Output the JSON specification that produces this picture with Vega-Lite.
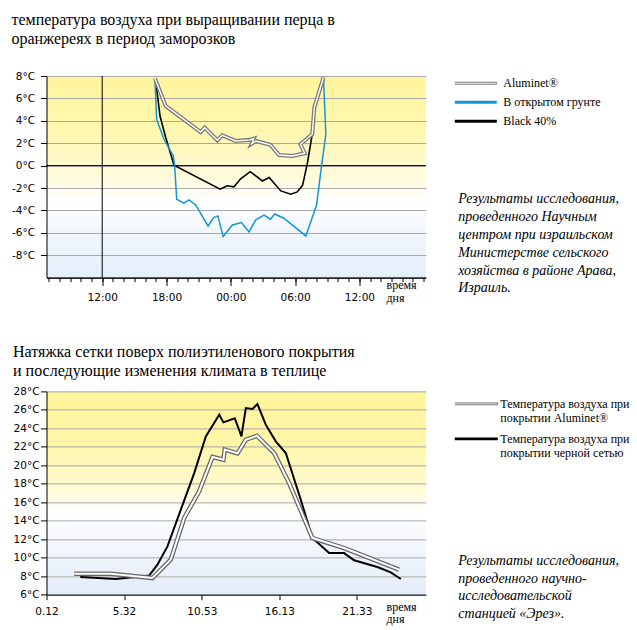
{
  "$schema": "https://vega.github.io/schema/vega-lite/v6.json",
  "padding": {"left": 10.5, "top": 12, "right": 5, "bottom": 5},
  "background": "white",
  "config": {
    "font": "DejaVu Sans",
    "title": {"font": "Liberation Serif", "fontSize": 16, "fontWeight": "normal", "anchor": "start", "lineHeight": 19, "color": "black", "baseline": "bottom"},
    "axis": {"labelFont": "DejaVu Sans", "labelFontSize": 10.5, "labelColor": "black", "domainColor": "black", "tickColor": "black", "gridColor": "#a8a8a8", "titleFont": "Liberation Serif", "titleFontWeight": "normal", "titleFontSize": 12, "titleColor": "black", "labelOverlap": false},
    "legend": {"labelFont": "Liberation Serif", "labelFontSize": 12, "labelColor": "black", "padding": 0, "rowPadding": 0, "symbolOffset": 0}
  },
  "resolve": {"scale": {"color": "independent", "stroke": "independent"}, "legend": {"color": "independent", "stroke": "independent"}},
  "datasets": {
    "frost": [
      {"s": "Aluminet®", "i": 1, "h": 16.92, "t": 7.77},
      {"s": "Aluminet®", "i": 2, "h": 17.92, "t": 5.33},
      {"s": "Aluminet®", "i": 3, "h": 21.19, "t": 3.0},
      {"s": "Aluminet®", "i": 4, "h": 21.56, "t": 3.39},
      {"s": "Aluminet®", "i": 5, "h": 22.75, "t": 2.26},
      {"s": "Aluminet®", "i": 6, "h": 23.2, "t": 2.7},
      {"s": "Aluminet®", "i": 7, "h": 24.46, "t": 2.2},
      {"s": "Aluminet®", "i": 8, "h": 25.8, "t": 2.3},
      {"s": "Aluminet®", "i": 9, "h": 26.15, "t": 2.4},
      {"s": "Aluminet®", "i": 10, "h": 25.95, "t": 1.95},
      {"s": "Aluminet®", "i": 11, "h": 26.35, "t": 2.2},
      {"s": "Aluminet®", "i": 12, "h": 27.7, "t": 1.85},
      {"s": "Aluminet®", "i": 13, "h": 28.5, "t": 0.95},
      {"s": "Aluminet®", "i": 14, "h": 29.76, "t": 0.86},
      {"s": "Aluminet®", "i": 15, "h": 30.9, "t": 1.1},
      {"s": "Aluminet®", "i": 16, "h": 30.5, "t": 1.9},
      {"s": "Aluminet®", "i": 17, "h": 31.6, "t": 2.8},
      {"s": "Aluminet®", "i": 18, "h": 31.8, "t": 5.2},
      {"s": "Aluminet®", "i": 19, "h": 32.65, "t": 7.86},
      {"s": "Black 40%", "i": 1, "h": 16.92, "t": 7.7},
      {"s": "Black 40%", "i": 2, "h": 17.1, "t": 6.7},
      {"s": "Black 40%", "i": 3, "h": 17.4, "t": 4.4},
      {"s": "Black 40%", "i": 4, "h": 17.9, "t": 2.6},
      {"s": "Black 40%", "i": 5, "h": 18.7, "t": 0.03},
      {"s": "Black 40%", "i": 6, "h": 23.0, "t": -2.1},
      {"s": "Black 40%", "i": 7, "h": 23.68, "t": -1.8},
      {"s": "Black 40%", "i": 8, "h": 24.3, "t": -1.9},
      {"s": "Black 40%", "i": 9, "h": 24.9, "t": -1.2},
      {"s": "Black 40%", "i": 10, "h": 25.8, "t": -0.54},
      {"s": "Black 40%", "i": 11, "h": 26.95, "t": -1.37},
      {"s": "Black 40%", "i": 12, "h": 27.58, "t": -1.07},
      {"s": "Black 40%", "i": 13, "h": 28.67, "t": -2.26},
      {"s": "Black 40%", "i": 14, "h": 29.6, "t": -2.56},
      {"s": "Black 40%", "i": 15, "h": 30.2, "t": -2.35},
      {"s": "Black 40%", "i": 16, "h": 30.7, "t": -1.76},
      {"s": "Black 40%", "i": 17, "h": 31.16, "t": 0.27},
      {"s": "Black 40%", "i": 18, "h": 31.6, "t": 2.8},
      {"s": "Black 40%", "i": 19, "h": 31.8, "t": 5.2},
      {"s": "Black 40%", "i": 20, "h": 32.65, "t": 7.86},
      {"s": "В открытом грунте", "i": 1, "h": 16.92, "t": 7.7},
      {"s": "В открытом грунте", "i": 2, "h": 17.08, "t": 4.14},
      {"s": "В открытом грунте", "i": 3, "h": 17.76, "t": 2.35},
      {"s": "В открытом грунте", "i": 4, "h": 18.64, "t": 0.86},
      {"s": "В открытом грунте", "i": 5, "h": 18.76, "t": 0.03},
      {"s": "В открытом грунте", "i": 6, "h": 18.95, "t": -3.0},
      {"s": "В открытом грунте", "i": 7, "h": 19.63, "t": -3.36},
      {"s": "В открытом грунте", "i": 8, "h": 20.1, "t": -3.07},
      {"s": "В открытом грунте", "i": 9, "h": 20.72, "t": -3.51},
      {"s": "В открытом грунте", "i": 10, "h": 21.88, "t": -5.39},
      {"s": "В открытом грунте", "i": 11, "h": 22.4, "t": -4.64},
      {"s": "В открытом грунте", "i": 12, "h": 22.8, "t": -4.49},
      {"s": "В открытом грунте", "i": 13, "h": 23.28, "t": -6.34},
      {"s": "В открытом грунте", "i": 14, "h": 24.15, "t": -5.3},
      {"s": "В открытом грунте", "i": 15, "h": 24.99, "t": -5.09},
      {"s": "В открытом грунте", "i": 16, "h": 25.7, "t": -5.92},
      {"s": "В открытом грунте", "i": 17, "h": 26.33, "t": -4.85},
      {"s": "В открытом грунте", "i": 18, "h": 27.1, "t": -4.43},
      {"s": "В открытом грунте", "i": 19, "h": 27.7, "t": -4.79},
      {"s": "В открытом грунте", "i": 20, "h": 28.1, "t": -4.32},
      {"s": "В открытом грунте", "i": 21, "h": 28.95, "t": -4.7},
      {"s": "В открытом грунте", "i": 22, "h": 31.0, "t": -6.28},
      {"s": "В открытом грунте", "i": 23, "h": 32.0, "t": -3.54},
      {"s": "В открытом грунте", "i": 24, "h": 32.47, "t": -0.03},
      {"s": "В открытом грунте", "i": 25, "h": 32.87, "t": 2.8},
      {"s": "В открытом грунте", "i": 26, "h": 32.65, "t": 7.86}
    ],
    "greenhouse": [
      {"s": "Температура воздуха при покрытии черной сетью", "i": 1, "h": 2.52, "t": 7.91},
      {"s": "Температура воздуха при покрытии черной сетью", "i": 2, "h": 4.97, "t": 7.7},
      {"s": "Температура воздуха при покрытии черной сетью", "i": 3, "h": 7.26, "t": 8.07},
      {"s": "Температура воздуха при покрытии черной сетью", "i": 4, "h": 7.83, "t": 9.25},
      {"s": "Температура воздуха при покрытии черной сетью", "i": 5, "h": 8.52, "t": 11.23},
      {"s": "Температура воздуха при покрытии черной сетью", "i": 6, "h": 9.44, "t": 15.2},
      {"s": "Температура воздуха при покрытии черной сетью", "i": 7, "h": 10.36, "t": 19.16},
      {"s": "Температура воздуха при покрытии черной сетью", "i": 8, "h": 11.16, "t": 23.13},
      {"s": "Температура воздуха при покрытии черной сетью", "i": 9, "h": 12.08, "t": 25.48},
      {"s": "Температура воздуха при покрытии черной сетью", "i": 10, "h": 12.37, "t": 24.65},
      {"s": "Температура воздуха при покрытии черной сетью", "i": 11, "h": 13.15, "t": 25.1},
      {"s": "Температура воздуха при покрытии черной сетью", "i": 12, "h": 13.61, "t": 23.13},
      {"s": "Температура воздуха при покрытии черной сетью", "i": 13, "h": 13.91, "t": 26.2},
      {"s": "Температура воздуха при покрытии черной сетью", "i": 14, "h": 14.37, "t": 26.1},
      {"s": "Температура воздуха при покрытии черной сетью", "i": 15, "h": 14.71, "t": 26.63},
      {"s": "Температура воздуха при покрытии черной сетью", "i": 16, "h": 15.28, "t": 24.4},
      {"s": "Температура воздуха при покрытии черной сетью", "i": 17, "h": 15.97, "t": 22.6},
      {"s": "Температура воздуха при покрытии черной сетью", "i": 18, "h": 16.66, "t": 21.33},
      {"s": "Температура воздуха при покрытии черной сетью", "i": 19, "h": 17.69, "t": 16.28},
      {"s": "Температура воздуха при покрытии черной сетью", "i": 20, "h": 18.49, "t": 12.13},
      {"s": "Температура воздуха при покрытии черной сетью", "i": 21, "h": 19.64, "t": 10.5},
      {"s": "Температура воздуха при покрытии черной сетью", "i": 22, "h": 20.67, "t": 10.5},
      {"s": "Температура воздуха при покрытии черной сетью", "i": 23, "h": 21.36, "t": 9.72},
      {"s": "Температура воздуха при покрытии черной сетью", "i": 24, "h": 22.96, "t": 9.0},
      {"s": "Температура воздуха при покрытии черной сетью", "i": 25, "h": 23.88, "t": 8.42},
      {"s": "Температура воздуха при покрытии черной сетью", "i": 26, "h": 24.57, "t": 7.7},
      {"s": "Температура воздуха при покрытии Aluminet®", "i": 1, "h": 2.1, "t": 8.27},
      {"s": "Температура воздуха при покрытии Aluminet®", "i": 2, "h": 4.62, "t": 8.27},
      {"s": "Температура воздуха при покрытии Aluminet®", "i": 3, "h": 7.49, "t": 7.8},
      {"s": "Температура воздуха при покрытии Aluminet®", "i": 4, "h": 8.75, "t": 9.8},
      {"s": "Температура воздуха при покрытии Aluminet®", "i": 5, "h": 9.67, "t": 14.3},
      {"s": "Температура воздуха при покрытии Aluminet®", "i": 6, "h": 10.7, "t": 17.18},
      {"s": "Температура воздуха при покрытии Aluminet®", "i": 7, "h": 11.62, "t": 20.9},
      {"s": "Температура воздуха при покрытии Aluminet®", "i": 8, "h": 12.37, "t": 20.6},
      {"s": "Температура воздуха при покрытии Aluminet®", "i": 9, "h": 12.46, "t": 21.7},
      {"s": "Температура воздуха при покрытии Aluminet®", "i": 10, "h": 13.34, "t": 21.3},
      {"s": "Температура воздуха при покрытии Aluminet®", "i": 11, "h": 13.91, "t": 22.77},
      {"s": "Температура воздуха при покрытии Aluminet®", "i": 12, "h": 14.67, "t": 23.2},
      {"s": "Температура воздуха при покрытии Aluminet®", "i": 13, "h": 15.86, "t": 21.33},
      {"s": "Температура воздуха при покрытии Aluminet®", "i": 14, "h": 16.89, "t": 18.08},
      {"s": "Температура воздуха при покрытии Aluminet®", "i": 15, "h": 18.49, "t": 12.13},
      {"s": "Температура воздуха при покрытии Aluminet®", "i": 16, "h": 20.67, "t": 11.05},
      {"s": "Температура воздуха при покрытии Aluminet®", "i": 17, "h": 24.45, "t": 8.71}
    ],
    "notes1": [
      {"line": 1, "text": "Результаты исследования,"},
      {"line": 2, "text": "проведенного Научным"},
      {"line": 3, "text": "центром при израильском"},
      {"line": 4, "text": "Министерстве сельского"},
      {"line": 5, "text": "хозяйства в районе Арава,"},
      {"line": 6, "text": "Израиль."}
    ],
    "notes2": [
      {"line": 1, "text": "Результаты исследования,"},
      {"line": 2, "text": "проведенного научно-"},
      {"line": 3, "text": "исследовательской"},
      {"line": 4, "text": "станцией «Эрез»."}
    ]
  },
  "columns": 2,
  "bounds": "flush",
  "align": "each",
  "spacing": {"row": 113.4, "column": 30.7},
  "concat": [
    {
      "width": 379.3,
      "height": 201.6,
      "title": {"text": ["температура воздуха при выращивании перца в", "оранжереях в период заморозков"], "offset": 22.3},
      "view": {"stroke": null, "fill": {"gradient": "linear", "x1": 0, "y1": 0, "x2": 0, "y2": 1, "stops": [{"offset": 0, "color": "#fff59c"}, {"offset": 0.3, "color": "#fff7b3"}, {"offset": 0.5, "color": "#fffbdc"}, {"offset": 0.62, "color": "#ffffff"}, {"offset": 0.8, "color": "#f0f5fc"}, {"offset": 1, "color": "#e4eefa"}]}},
      "data": {"name": "frost"},
      "resolve": {"axis": {"x": "independent"}},
      "layer": [
        {
          "data": {"values": [{"h": 12}]},
          "mark": {"type": "rule", "color": "black", "strokeWidth": 1},
          "encoding": {
            "x": {"field": "h", "type": "quantitative", "scale": {"domain": [6.8, 42.2], "nice": false, "zero": false},
              "axis": {"orient": "bottom", "values": [7,8,9,10,11,12,13,14,15,16,17,18,19,20,21,22,23,24,25,26,27,28,29,30,31,32,33,34,35,36,37,38,39,40,41,42],
                "tickCount": 100, "labels": false, "tickSize": 4, "grid": false, "title": null}}
          }
        },
        {
          "data": {"values": [{"t": 0}]},
          "mark": {"type": "rule", "color": "black", "strokeWidth": 1},
          "encoding": {
            "y": {"field": "t", "type": "quantitative", "scale": {"domain": [-10, 8], "nice": false, "zero": false},
              "axis": {"values": [-8,-6,-4,-2,0,2,4,6,8], "tickCount": 100, "labelExpr": "datum.value + '°C'", "tickSize": 6, "labelPadding": 6, "labelOverlap": false, "grid": true, "title": null}}
          }
        },
        {
          "transform": [{"filter": "datum.s == 'Black 40%'"}],
          "mark": {"type": "line", "strokeWidth": 1.6},
          "encoding": {
            "x": {"field": "h", "type": "quantitative",
              "axis": {"orient": "bottom", "values": [12, 18, 24, 30, 36], "tickCount": 100,
                "labelExpr": "((datum.value % 24) < 10 ? '0' : '') + (datum.value % 24) + ':00'",
                "tickSize": 8, "labelFlush": false, "labelPadding": 7, "labelOverlap": false, "grid": false,
                "title": ["время", "дня"], "titleAngle": 0, "titleAlign": "left", "titleBaseline": "alphabetic", "titleX": 339.5, "titleY": 11, "titleLineHeight": 12.5}},
            "y": {"field": "t", "type": "quantitative"},
            "order": {"field": "i"},
            "color": {"field": "s", "type": "nominal", "scale": {"domain": ["Aluminet®", "В открытом грунте", "Black 40%"], "range": ["#7a7a7a", "#1496d4", "#000000"]},
              "legend": {"orient": "none", "legendX": 406.8, "legendY": -2, "title": null, "symbolType": "stroke", "symbolSize": 1764, "clipHeight": 18.5, "rowPadding": 0, "labelOffset": 5, "symbolStrokeWidth": 2.8, "labelBaseline": "middle"}}
          }
        },
        {
          "transform": [{"filter": "datum.s == 'В открытом грунте'"}],
          "mark": {"type": "line", "strokeWidth": 1.5},
          "encoding": {
            "x": {"field": "h", "type": "quantitative", "axis": null},
            "y": {"field": "t", "type": "quantitative"},
            "order": {"field": "i"},
            "color": {"field": "s", "type": "nominal", "legend": null}
          }
        },
        {
          "transform": [{"filter": "datum.s == 'Aluminet®'"}],
          "mark": {"type": "line", "strokeWidth": 4},
          "encoding": {
            "x": {"field": "h", "type": "quantitative", "axis": null},
            "y": {"field": "t", "type": "quantitative"},
            "order": {"field": "i"},
            "color": {"field": "s", "type": "nominal", "legend": null}
          }
        },
        {
          "transform": [{"filter": "datum.s == 'Aluminet®'"}],
          "mark": {"type": "line", "strokeWidth": 1.4},
          "encoding": {
            "x": {"field": "h", "type": "quantitative", "axis": null},
            "y": {"field": "t", "type": "quantitative"},
            "order": {"field": "i"},
            "stroke": {"field": "s", "type": "nominal", "scale": {"domain": ["Aluminet®"], "range": ["#ffffff"]},
              "legend": {"orient": "none", "legendX": 406.8, "legendY": -2, "title": null, "symbolType": "stroke", "symbolSize": 1764, "clipHeight": 18.5, "rowPadding": 0, "labelOffset": 5, "symbolStrokeWidth": 1.0, "labelBaseline": "middle", "labelExpr": "''"}}
          }
        }
      ]
    },
    {
      "width": 2,
      "height": 201.6,
      "data": {"name": "notes1"},
      "view": {"stroke": null},
      "mark": {"type": "text", "align": "left", "baseline": "alphabetic", "font": "Liberation Serif", "fontStyle": "italic", "fontSize": 14, "color": "black"},
      "encoding": {
        "y": {"field": "line", "type": "quantitative", "scale": {"domain": [-6.095, 5.168], "reverse": true, "zero": false, "nice": false}, "axis": null},
        "text": {"field": "text"}
      }
    },
    {
      "width": 379.3,
      "height": 203.3,
      "title": {"text": ["Натяжка сетки поверх полиэтиленового покрытия", "и последующие изменения климата в теплице"], "offset": 7.5},
      "view": {"stroke": null, "fill": {"gradient": "linear", "x1": 0, "y1": 0, "x2": 0, "y2": 1, "stops": [{"offset": 0, "color": "#fff59c"}, {"offset": 0.25, "color": "#fff6a8"}, {"offset": 0.45, "color": "#fff9cc"}, {"offset": 0.6, "color": "#ffffff"}, {"offset": 0.75, "color": "#f3f7fd"}, {"offset": 1, "color": "#e2ecf9"}]}},
      "data": {"name": "greenhouse"},
      "layer": [
        {
          "transform": [{"filter": "datum.s == 'Температура воздуха при покрытии черной сетью'"}],
          "mark": {"type": "line", "strokeWidth": 2},
          "encoding": {
            "x": {"field": "h", "type": "quantitative", "scale": {"domain": [0.2, 26.29], "nice": false, "zero": false},
              "axis": {"values": [0.2, 5.5333, 10.8833, 16.2167, 21.55], "tickCount": 100,
                "labelExpr": "floor(datum.value) + '.' + (round((datum.value - floor(datum.value)) * 60) < 10 ? '0' : '') + round((datum.value - floor(datum.value)) * 60)",
                "tickSize": 5, "labelFlush": false, "labelPadding": 7, "labelOverlap": false, "grid": false,
                "title": ["время", "дня"], "titleAngle": 0, "titleAlign": "left", "titleBaseline": "alphabetic", "titleX": 339.5, "titleY": 16, "titleLineHeight": 12}},
            "y": {"field": "t", "type": "quantitative", "scale": {"domain": [6, 28], "nice": false, "zero": false},
              "axis": {"values": [6,8,10,12,14,16,18,20,22,24,26,28], "tickCount": 100, "labelExpr": "datum.value + '°C'", "tickSize": 6, "labelPadding": 1.5, "labelOverlap": false, "grid": true, "title": null}},
            "order": {"field": "i"},
            "color": {"field": "s", "type": "nominal", "scale": {"domain": ["Температура воздуха при покрытии Aluminet®", "Температура воздуха при покрытии черной сетью"], "range": ["#666666", "#000000"]},
              "legend": {"orient": "none", "legendX": 406.8, "legendY": 4.5, "title": null, "symbolType": "stroke", "symbolSize": 1849, "symbolStrokeWidth": 2.8, "clipHeight": 16, "rowPadding": 7, "labelOffset": 1, "labelBaseline": "middle", "labelLimit": 200,
                "labelExpr": "['Температура воздуха при', substring(datum.label, 24)]"}}
          }
        },
        {
          "transform": [{"filter": "datum.s == 'Температура воздуха при покрытии Aluminet®'"}],
          "mark": {"type": "line", "strokeWidth": 4.5},
          "encoding": {
            "x": {"field": "h", "type": "quantitative"},
            "y": {"field": "t", "type": "quantitative"},
            "order": {"field": "i"},
            "color": {"field": "s", "type": "nominal", "legend": null}
          }
        },
        {
          "transform": [{"filter": "datum.s == 'Температура воздуха при покрытии Aluminet®'"}],
          "mark": {"type": "line", "strokeWidth": 2},
          "encoding": {
            "x": {"field": "h", "type": "quantitative"},
            "y": {"field": "t", "type": "quantitative"},
            "order": {"field": "i"},
            "stroke": {"field": "s", "type": "nominal", "scale": {"domain": ["Температура воздуха при покрытии Aluminet®"], "range": ["#ffffff"]},
              "legend": {"orient": "none", "legendX": 406.8, "legendY": 4.5, "title": null, "symbolType": "stroke", "symbolSize": 1849, "symbolStrokeWidth": 1.0, "clipHeight": 16, "rowPadding": 7, "labelOffset": 1, "labelBaseline": "middle", "labelExpr": "['', '']"}}
          }
        }
      ]
    },
    {
      "width": 2,
      "height": 203.3,
      "data": {"name": "notes2"},
      "view": {"stroke": null},
      "mark": {"type": "text", "align": "left", "baseline": "alphabetic", "font": "Liberation Serif", "fontStyle": "italic", "fontSize": 14, "color": "black"},
      "encoding": {
        "y": {"field": "line", "type": "quantitative", "scale": {"domain": [-8.971, 2.679], "reverse": true, "zero": false, "nice": false}, "axis": null},
        "text": {"field": "text"}
      }
    }
  ]
}
